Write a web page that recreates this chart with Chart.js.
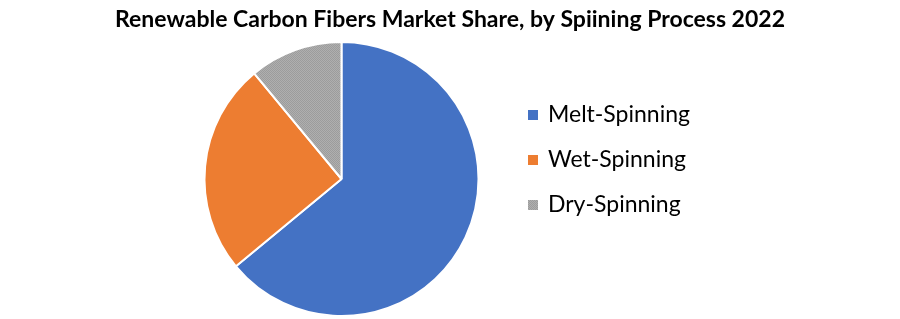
<!DOCTYPE html>
<html>
<head>
<meta charset="utf-8">
<script src="https://cdn.jsdelivr.net/npm/chart.js@4.4.0/dist/chart.umd.min.js"></script>
<style>
  html, body { margin: 0; padding: 0; background: #fff; }
  #wrap { width: 900px; height: 319px; }
</style>
</head>
<body>
<div id="wrap"><canvas id="canvas"></canvas></div>
<script>
const processes = ['Melt-Spinning', 'Wet-Spinning', 'Dry-Spinning'];
const shares = [64, 25, 11];
const titleText = 'Renewable Carbon Fibers Market Share, by Spiining Process 2022';

// small speckle pattern for the grey slice
function dotted() {
  var c = document.createElement('canvas');
  c.width = 2; c.height = 2;
  var p = c.getContext('2d');
  p.fillStyle = '#afafaf';
  p.fillRect(0, 0, 2, 2);
  p.fillStyle = '#9c9c9c';
  p.fillRect(0, 0, 1, 1);
  p.fillRect(1, 1, 1, 1);
  return p.createPattern(c, 'repeat');
}

const sideText = {
  id: 'sideText',
  afterDraw(chart) {
    const ctx = chart.ctx;
    const ds = chart.data.datasets[0];
    ctx.save();
    ctx.fillStyle = '#000';
    ctx.textAlign = 'center';
    ctx.textBaseline = 'alphabetic';
    ctx.font = 'bold 23px Lato, "Liberation Sans", sans-serif';
    ctx.fillText(titleText, 450, 27);

    ctx.textAlign = 'left';
    ctx.textBaseline = 'middle';
    ctx.font = '23px Lato, "Liberation Sans", sans-serif';
    chart.data.labels.forEach(function(lab, i) {
      const y = 115 + i * 45;
      ctx.fillStyle = ds.backgroundColor[i];
      ctx.fillRect(528, y - 5, 10, 10);
      ctx.fillStyle = '#000';
      ctx.fillText(lab, 548, y);
    });
    ctx.restore();
  }
};

window.onload = function() {
  var ctx = document.getElementById('canvas').getContext('2d');
  const colours = ['#4472C4', '#ED7D31', dotted()];
  new Chart(ctx, {
    type: 'pie',
    data: {
      labels: processes,
      datasets: [{
        data: shares,
        backgroundColor: colours,
        borderColor: '#fff',
        borderWidth: 2
      }]
    },
    options: {
      responsive: true,
      maintainAspectRatio: false,
      animation: false,
      layout: {
        padding: { top: 41, right: 217, bottom: 2, left: 0 }
      },
      plugins: {
        legend: { display: false },
        tooltip: { enabled: false },
        title: { display: false }
      }
    },
    plugins: [sideText]
  });
};
</script>
</body>
</html>
